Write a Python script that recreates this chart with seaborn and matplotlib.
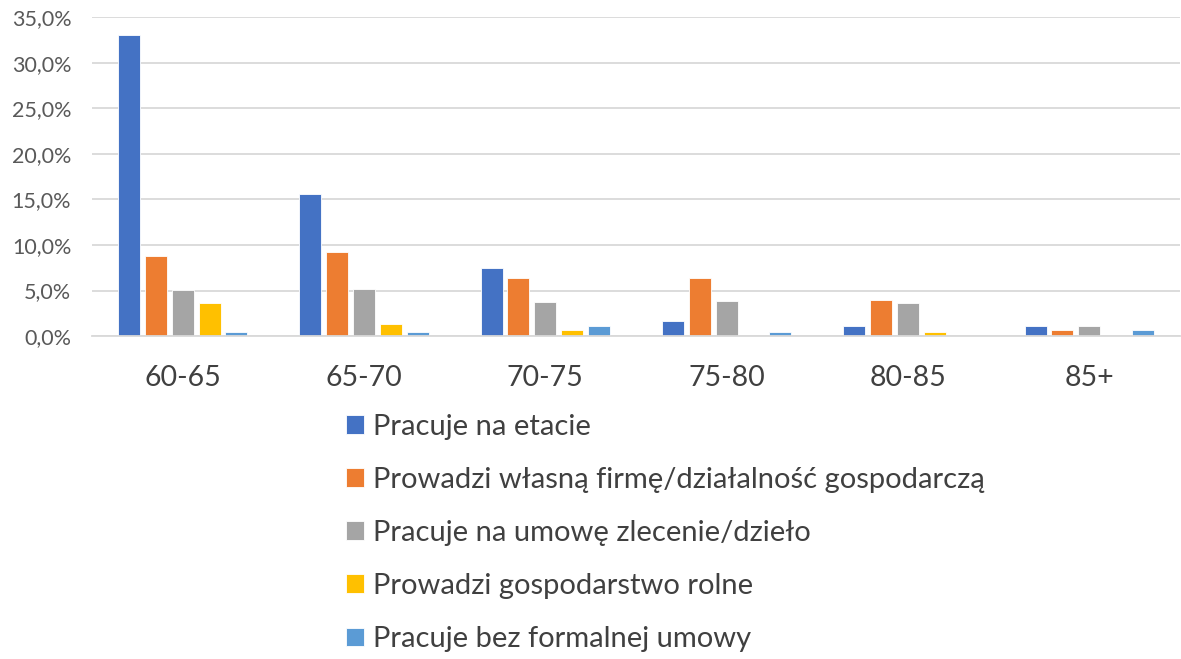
import matplotlib
matplotlib.use("Agg")
import matplotlib.pyplot as plt
import seaborn as sns
import pandas as pd
from matplotlib.ticker import FuncFormatter

# wiek
age_groups = ["60-65", "65-70", "70-75", "75-80", "80-85", "85+"]
series = [
    "Pracuje na etacie",
    "Prowadzi własną firmę/działalność gospodarczą",
    "Pracuje na umowę zlecenie/dzieło",
    "Prowadzi gospodarstwo rolne",
    "Pracuje bez formalnej umowy",
]
etat = [33.0, 15.6, 7.5, 1.7, 1.1, 1.1]
firma = [8.8, 9.2, 6.4, 6.4, 4.0, 0.7]
zlecenie = [5.1, 5.2, 3.7, 3.9, 3.6, 1.1]
rolne = [3.6, 1.3, 0.7, 0.0, 0.4, 0.0]
bez_umowy = [0.4, 0.5, 1.1, 0.5, 0.0, 0.7]
colors = ["#4472C4", "#ED7D31", "#A5A5A5", "#FFC000", "#5B9BD5"]

rows = []
for name, vals in zip(series, [etat, firma, zlecenie, rolne, bez_umowy]):
    for g, v in zip(age_groups, vals):
        rows.append({"wiek": g, "typ": name, "proc": v})
df = pd.DataFrame(rows)

sns.set_style("white")
plt.rcParams["font.family"] = ["Lato", "DejaVu Sans"]

fig = plt.figure(figsize=(11.81, 6.59), dpi=100)
ax = fig.add_axes([0.078, 0.49, 0.921, 0.484])
sns.barplot(data=df, x="wiek", y="proc", hue="typ", palette=colors, saturation=1,
            width=0.74, gap=0.18, ax=ax, legend=True, edgecolor="white", linewidth=0.6)

ax.set_ylim(0, 35)
ax.set_yticks(range(0, 36, 5))
ax.yaxis.set_major_formatter(FuncFormatter(lambda v, p: f"{v:.1f}%".replace(".", ",")))
ax.grid(axis="y", color="#D9D9D9", linewidth=1.3)
ax.set_axisbelow(True)
for s in ["top", "right", "left"]:
    ax.spines[s].set_visible(False)
ax.spines["bottom"].set_color("#D9D9D9")
ax.spines["bottom"].set_linewidth(1.3)
ax.tick_params(axis="y", labelsize=15.5, colors="#595959", length=0, pad=15)
ax.tick_params(axis="x", labelsize=20.5, colors="#404040", length=0, pad=21)
ax.set_xlabel("")
ax.set_ylabel("")

handles, labels = ax.get_legend_handles_labels()
ax.legend_.remove()
fig.legend(handles, labels, loc="upper left", bbox_to_anchor=(0.271, 0.412),
           frameon=False, fontsize=21, labelcolor="#404040",
           handlelength=0.62, handleheight=0.62, handletextpad=0.3,
           labelspacing=0.93)

fig.savefig("out.png", dpi=100)
